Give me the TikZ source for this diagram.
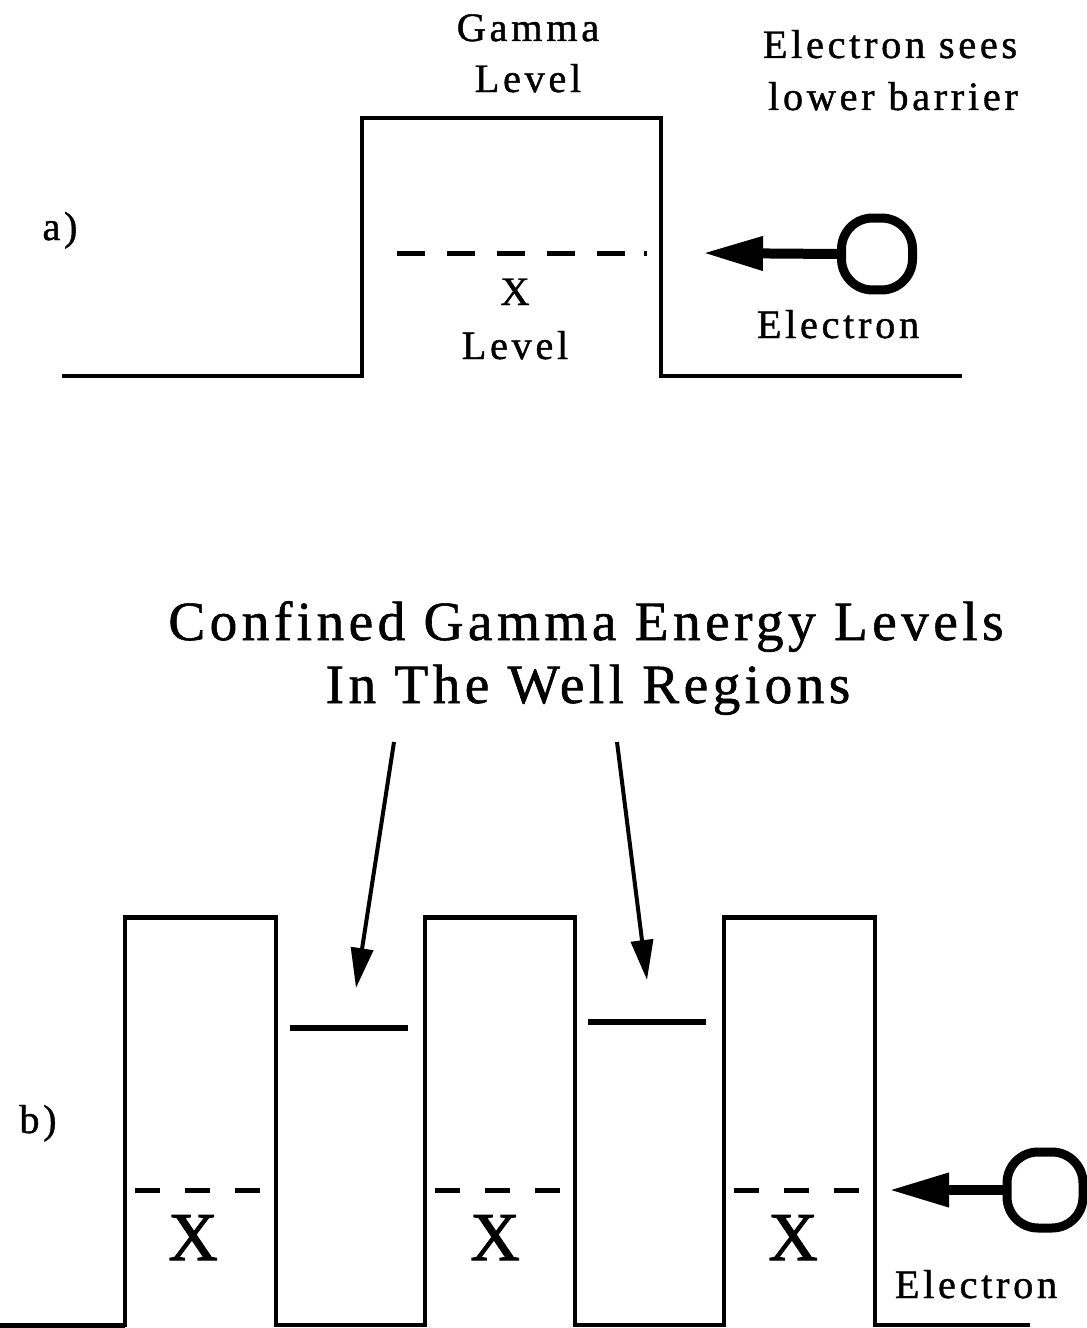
\documentclass[tikz,border=0pt]{standalone}
\usepackage{fontspec}
\setmainfont{Liberation Serif}
\newfontfamily\lfont[LetterSpace=9,FakeBold=1]{Liberation Serif}
\newfontfamily\tfont[LetterSpace=8,FakeBold=1]{Liberation Serif}
\newfontfamily\xfont[FakeBold=1.5]{Liberation Serif}
\usetikzlibrary{arrows.meta}
\begin{document}
\begin{tikzpicture}[x=0.02cm,y=-0.02cm,
  prof/.style={line width=0.07cm, line join=miter},
  toplvl/.style={line width=0.1cm},
  lvl/.style={line width=0.12cm},
  adash/.style={line width=0.1cm, dash pattern=on 0.56cm off 0.44cm},
  bdash/.style={line width=0.1cm, dash pattern=on 0.5cm off 0.5cm},
  lbl/.style={font=\lfont\fontsize{23}{27}\selectfont, inner sep=0, anchor=base},
  ttl/.style={font=\tfont\fontsize{31.5}{36}\selectfont, inner sep=0, anchor=base},
  xbig/.style={font=\xfont\fontsize{39}{44}\selectfont, inner sep=0, anchor=base},
  electron/.style={draw, line width=0.18cm, rounded corners=0.62cm, inner sep=0},
  earrow/.style={line width=0.2cm, -{Triangle[length=1.2cm,width=0.64cm]}},
  tarrow/.style={line width=0.08cm, -{Triangle[length=0.8cm,width=0.44cm]}}
]
\fill[white] (0,0) rectangle (1087,1328);
\useasboundingbox (0,0) rectangle (1087,1328);

% ---------- part a ----------
\draw[prof] (62,376) -- (362,376) -- (362,118) -- (661,118) -- (661,376) -- (962,376);
\draw[adash] (397,253) -- (625,253);
\draw[line width=0.1cm] (644,253) -- (647,253);

\node[lbl] (gam) at (528,41) {Gamma};
\node[lbl] (glev) at (528,92) {Level};
\node[lbl] (sees) at (890,58) {Electron sees};
\node[lbl] (lowb) at (893,110) {lower barrier};
\node[lbl] (xa) at (515,305) {X};
\node[lbl] (xlev) at (515,359) {Level};
\node[lbl] (ela) at (838,338) {Electron};
\node[lbl] (la) at (60,240) {a)};

\node[electron, minimum width=1.42cm, minimum height=1.44cm] (e1) at (877,254) {};
\coordinate (ta) at (703,253);
\draw[earrow] (e1.west) -- (ta);

% ---------- part b ----------
\node[ttl] (t1) at (586,640) {Confined Gamma Energy Levels};
\node[ttl] (t2) at (588,703) {In The Well Regions};
\coordinate (s1) at (394,742);
\coordinate (s2) at (617,742);
\coordinate (p1) at (356,988);
\coordinate (p2) at (647,980);
\draw[tarrow] (s1) -- (p1);
\draw[tarrow] (s2) -- (p2);

\draw[prof] (0,1325) -- (125,1325) -- (125,917) -- (276,917) -- (276,1325)
  -- (425,1325) -- (425,917) -- (575,917) -- (575,1325)
  -- (724,1325) -- (724,917) -- (875,917) -- (875,1325) -- (1030,1325);
\draw[toplvl] (125,917) -- (276,917);
\draw[toplvl] (425,917) -- (575,917);
\draw[toplvl] (724,917) -- (875,917);
\draw[line width=0.1cm] (0,1325) -- (125,1325);

\draw[lvl] (290,1028) -- (408,1028);
\draw[lvl] (588,1022) -- (706,1022);

\draw[bdash] (135,1190) -- (262,1190);
\draw[bdash] (435,1190) -- (562,1190);
\draw[bdash] (734,1190) -- (861,1190);

\node[xbig] (x1) at (193,1260) {X};
\node[xbig] (x2) at (495,1260) {X};
\node[xbig] (x3) at (793,1260) {X};
\node[lbl] (lb) at (38,1133) {b)};
\node[lbl] (elb) at (976,1298) {Electron};

\node[electron, minimum width=1.52cm, minimum height=1.52cm] (e2) at (1045,1190) {};
\coordinate (tb) at (889,1190);
\draw[earrow] (e2.west) -- (tb);
\end{tikzpicture}
\end{document}
